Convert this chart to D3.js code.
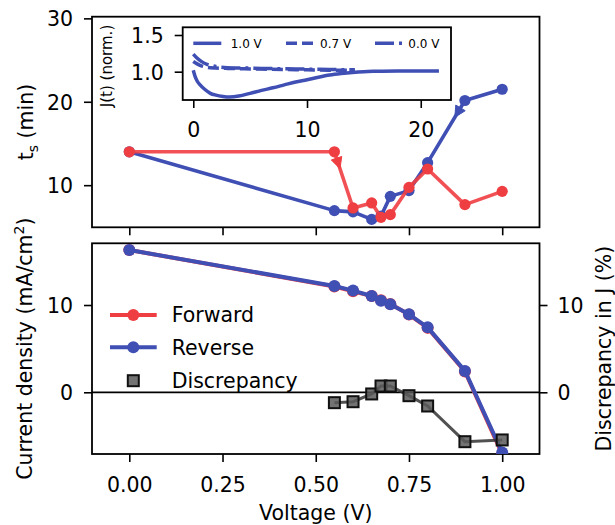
<!DOCTYPE html>
<html><head><meta charset="utf-8">
<script src="https://cdn.jsdelivr.net/npm/d3@7"></script>
<style>
body{margin:0;background:#fff}
svg{display:block}
text{font-family:"DejaVu Sans",sans-serif;fill:#000}
</style>
</head><body>
<svg id="c" width="615" height="525"></svg>
<script>
// ---------- data ----------
const voltage = [0, 0.55, 0.6, 0.65, 0.675, 0.7, 0.75, 0.8, 0.9, 1.0];
const tsForward = [14.0, 14.0, 7.27, 7.87, 6.15, 6.47, 9.74, 11.94, 7.67, 9.26];
const tsReverse = [14.0, 6.95, 6.8, 5.9, 6.3, 8.66, 9.35, 12.7, 20.15, 21.5];
const jReverse = [16.3, 12.18, 11.65, 11.03, 10.5, 10.08, 8.93, 7.44, 2.45, -6.9];
const jForward = [16.3, 12.12, 11.58, 11.02, 10.55, 10.12, 8.91, 7.38, 2.38, -7.1];
const discVoltage = [0.55, 0.6, 0.65, 0.675, 0.7, 0.75, 0.8, 0.9, 1.0];
const discrepancy = [-1.19, -1.08, -0.19, 0.72, 0.72, -0.39, -1.57, -5.66, -5.46];

// inset transients J(t) normalised
const t10 = [0, 0.15, 0.35, 0.6, 1.0, 1.5, 2.0, 2.6, 3.2, 4, 5, 6, 7, 8, 9, 10, 11, 12, 13, 14, 15, 16, 18, 20, 21.6];
const j10 = [1.02, 0.94, 0.87, 0.82, 0.76, 0.705, 0.68, 0.663, 0.656, 0.668, 0.705, 0.745, 0.78, 0.82, 0.86, 0.89, 0.925, 0.955, 0.975, 0.99, 1.0, 1.005, 1.01, 1.01, 1.01];
const t07 = [0, 0.3, 0.7, 1.2, 2, 3, 4.5, 6, 8, 10, 12, 14.2];
const j07 = [1.14, 1.11, 1.08, 1.06, 1.05, 1.045, 1.04, 1.035, 1.03, 1.025, 1.02, 1.02];
const t00 = [0, 0.3, 0.7, 1.2, 2, 3, 4.5, 6, 8, 10, 12, 14.2];
const j00 = [1.24, 1.19, 1.14, 1.10, 1.07, 1.055, 1.05, 1.045, 1.04, 1.035, 1.03, 1.025];

const xTicks = [0, 0.25, 0.5, 0.75, 1.0];
const xTickLabels = ["0.00", "0.25", "0.50", "0.75", "1.00"];
const tsTicks = [10, 20, 30];
const jTicks = [0, 10];
const discTicks = [0, 10];
const insetXTicks = [0, 10, 20];
const insetYTicks = [1.0, 1.5];
const insetYTickLabels = ["1.0", "1.5"];
const seriesNames = ["Forward", "Reverse", "Discrepancy"];
const insetNames = ["1.0 V", "0.7 V", "0.0 V"];

// ---------- styles ----------
const RED = "#ef3e42", BLUE = "#3f4fb4", GREY = "#333";
const FS = 20.5;

const svg = d3.select("#c");
const L = 92, R = 539.5;
const topP = {y0: 16.7, y1: 227.3}, botP = {y0: 243.3, y1: 454};

const x = d3.scaleLinear().domain([-0.1, 1.1]).range([L, R]);
const yT = d3.scaleLinear().domain([4.95, 30.2]).range([topP.y1, topP.y0]);
const yB = d3.scaleLinear().domain([-7.07, 17.07]).range([botP.y1, botP.y0]);
const yD = d3.scaleLinear().domain([-7.07, 17.07]).range([botP.y1, botP.y0]);

const defs = svg.append("defs");
defs.append("clipPath").attr("id", "clipT").append("rect")
  .attr("x", L).attr("y", topP.y0).attr("width", R - L).attr("height", topP.y1 - topP.y0);
defs.append("clipPath").attr("id", "clipB").append("rect")
  .attr("x", L).attr("y", botP.y0).attr("width", R - L).attr("height", botP.y1 - botP.y0);

function styleAxis(g, fs) {
  g.select(".domain").remove();
  g.selectAll(".tick line").attr("stroke", "#000").attr("stroke-width", 1.6);
  g.selectAll(".tick text").attr("font-size", fs).attr("font-family", "DejaVu Sans").attr("fill", "#000");
}

// ---------- top panel ----------
const gT = svg.append("g");
gT.append("g").attr("transform", `translate(0,${topP.y1})`)
  .call(d3.axisBottom(x).tickValues(xTicks).tickSize(8).tickFormat(""))
  .call(g => styleAxis(g, FS));
gT.append("g").attr("transform", `translate(${L},0)`)
  .call(d3.axisLeft(yT).tickValues(tsTicks).tickSize(8).tickPadding(11).tickFormat(d3.format("d")))
  .call(g => styleAxis(g, FS))
  .call(g => g.selectAll(".tick text").attr("dy", "0.36em"));

const dataT = svg.append("g").attr("clip-path", "url(#clipT)");
const lineT = (ys) => d3.line().x((d, i) => x(voltage[i])).y((d) => yT(d))(ys);

function arrow(g, xa, ya, xb, yb, f, color) {
  const dx = xb - xa, dy = yb - ya, len = Math.hypot(dx, dy);
  const ux = dx / len, uy = dy / len;
  const tx = xa + dx * f, ty = ya + dy * f;
  const bx = tx - ux * 11, by = ty - uy * 11;
  const px = -uy * 5.5, py = ux * 5.5;
  g.append("path").attr("d", `M${tx},${ty}L${bx + px},${by + py}L${bx - px},${by - py}Z`)
    .attr("fill", color).attr("stroke", color).attr("stroke-width", 1);
}

// reverse (blue)
dataT.append("path").attr("d", lineT(tsReverse)).attr("fill", "none")
  .attr("stroke", BLUE).attr("stroke-width", 3.6).attr("stroke-linejoin", "round");
dataT.selectAll(".dr").data(tsReverse).enter().append("circle")
  .attr("cx", (d, i) => x(voltage[i])).attr("cy", d => yT(d)).attr("r", 5.6).attr("fill", BLUE);
arrow(dataT, x(voltage[8]), yT(tsReverse[8]), x(voltage[7]), yT(tsReverse[7]), 0.27, BLUE);
// forward (red)
dataT.append("path").attr("d", lineT(tsForward)).attr("fill", "none")
  .attr("stroke", RED).attr("stroke-opacity", 0.9).attr("stroke-width", 3.6).attr("stroke-linejoin", "round");
dataT.selectAll(".df").data(tsForward).enter().append("circle")
  .attr("cx", (d, i) => x(voltage[i])).attr("cy", d => yT(d)).attr("r", 5.6).attr("fill", RED);
arrow(dataT, x(voltage[1]), yT(tsForward[1]), x(voltage[2]), yT(tsForward[2]), 0.3, RED);

gT.append("rect").attr("x", L).attr("y", topP.y0).attr("width", R - L).attr("height", topP.y1 - topP.y0)
  .attr("fill", "none").attr("stroke", "#000").attr("stroke-width", 1.8);

// ---------- inset ----------
const iL = 182.7, iR = 451, iT = 27.3, iB = 100;
const xi = d3.scaleLinear().domain([-0.93, 22.66]).range([iL, iR]);
const yi = d3.scaleLinear().domain([0.614, 1.605]).range([iB, iT]);
const gI = svg.append("g");
gI.append("rect").attr("x", iL).attr("y", iT).attr("width", iR - iL).attr("height", iB - iT).attr("fill", "#fff");
defs.append("clipPath").attr("id", "clipI").append("rect")
  .attr("x", iL).attr("y", iT).attr("width", iR - iL).attr("height", iB - iT);
const gIdata = gI.append("g").attr("clip-path", "url(#clipI)");
const lineI = (ts, js) => d3.line().curve(d3.curveMonotoneX).x((d, i) => xi(ts[i])).y(d => yi(d))(js);
const insetSeries = [
  {t: t10, j: j10, dash: null},
  {t: t07, j: j07, dash: "11,5"},
  {t: t00, j: j00, dash: "19,5,3,5"}
];
insetSeries.forEach(s => {
  gIdata.append("path").attr("d", lineI(s.t, s.j)).attr("fill", "none")
    .attr("stroke", BLUE).attr("stroke-width", 3.5).attr("stroke-dasharray", s.dash);
});
gI.append("g").attr("transform", `translate(0,${iB})`)
  .call(d3.axisBottom(xi).tickValues(insetXTicks).tickSize(8).tickPadding(14).tickFormat(d3.format("d")))
  .call(g => styleAxis(g, FS))
  .call(g => g.selectAll(".tick text").attr("dy", null).attr("y", 37));
gI.append("g").attr("transform", `translate(${iL},0)`)
  .call(d3.axisLeft(yi).tickValues(insetYTicks).tickSize(8).tickPadding(11).tickFormat((d, i) => insetYTickLabels[i]))
  .call(g => styleAxis(g, FS))
  .call(g => g.selectAll(".tick text").attr("dy", "0.36em"));
gI.append("rect").attr("x", iL).attr("y", iT).attr("width", iR - iL).attr("height", iB - iT)
  .attr("fill", "none").attr("stroke", "#000").attr("stroke-width", 1.8);
// inset legend
const iLegX = [193.3, 286, 375];
const iLegTX = [230.7, 320, 408.3];
insetSeries.forEach((s, k) => {
  gI.append("line").attr("x1", iLegX[k]).attr("x2", iLegX[k] + 28).attr("y1", 43.3).attr("y2", 43.3)
    .attr("stroke", BLUE).attr("stroke-width", 3.5).attr("stroke-dasharray", s.dash);
  gI.append("text").attr("x", iLegTX[k]).attr("y", 47.6).attr("font-size", 12).text(insetNames[k]);
});
svg.append("text").attr("transform", "translate(112,66) rotate(-90)").attr("text-anchor", "middle")
  .attr("font-size", 15).text("J(t) (norm.)");

// ---------- bottom panel ----------
const gB = svg.append("g");
gB.append("g").attr("transform", `translate(0,${botP.y1})`)
  .call(d3.axisBottom(x).tickValues(xTicks).tickSize(8).tickFormat((d, i) => xTickLabels[i]))
  .call(g => styleAxis(g, FS))
  .call(g => g.selectAll(".tick text").attr("dy", null).attr("y", 37.5));
gB.append("g").attr("transform", `translate(${L},0)`)
  .call(d3.axisLeft(yB).tickValues(jTicks).tickSize(8).tickPadding(11).tickFormat(d3.format("d")))
  .call(g => styleAxis(g, FS))
  .call(g => g.selectAll(".tick text").attr("dy", "0.36em"));
gB.append("g").attr("transform", `translate(${R},0)`)
  .call(d3.axisRight(yD).tickValues(discTicks).tickSize(8).tickPadding(10).tickFormat(d3.format("d")))
  .call(g => styleAxis(g, FS))
  .call(g => g.selectAll(".tick text").attr("dy", "0.36em"));

const dataB = svg.append("g").attr("clip-path", "url(#clipB)");
dataB.append("line").attr("x1", L).attr("x2", R).attr("y1", yB(0)).attr("y2", yB(0))
  .attr("stroke", "#000").attr("stroke-width", 1.8);
const lineB = (ys) => d3.line().x((d, i) => x(voltage[i])).y(d => yB(d))(ys);
dataB.append("path").attr("d", lineB(jForward)).attr("fill", "none")
  .attr("stroke", RED).attr("stroke-width", 4).attr("stroke-linejoin", "round");
dataB.selectAll(".bf").data(jForward).enter().append("circle")
  .attr("cx", (d, i) => x(voltage[i])).attr("cy", d => yB(d)).attr("r", 6).attr("fill", RED);
dataB.append("path").attr("d", lineB(jReverse)).attr("fill", "none")
  .attr("stroke", BLUE).attr("stroke-width", 4).attr("stroke-linejoin", "round");
dataB.selectAll(".br").data(jReverse).enter().append("circle")
  .attr("cx", (d, i) => x(voltage[i])).attr("cy", d => yB(d)).attr("r", 6).attr("fill", BLUE);
dataB.append("path")
  .attr("d", d3.line().x((d, i) => x(discVoltage[i])).y(d => yD(d))(discrepancy))
  .attr("fill", "none").attr("stroke", GREY).attr("stroke-opacity", 0.85).attr("stroke-width", 3);
dataB.selectAll(".sq").data(discrepancy).enter().append("rect")
  .attr("x", (d, i) => x(discVoltage[i]) - 5.5).attr("y", d => yD(d) - 5.5)
  .attr("width", 11).attr("height", 11)
  .attr("fill", "#5a5a5a").attr("fill-opacity", 0.85).attr("stroke", "#111").attr("stroke-width", 2);

gB.append("rect").attr("x", L).attr("y", botP.y0).attr("width", R - L).attr("height", botP.y1 - botP.y0)
  .attr("fill", "none").attr("stroke", "#000").attr("stroke-width", 1.8);

// legend
const legY = [315, 347.3, 380.7];
const legColors = [RED, BLUE];
[0, 1].forEach(k => {
  svg.append("line").attr("x1", 110).attr("x2", 156.7).attr("y1", legY[k]).attr("y2", legY[k])
    .attr("stroke", legColors[k]).attr("stroke-width", 4);
  svg.append("circle").attr("cx", 133.3).attr("cy", legY[k]).attr("r", 6).attr("fill", legColors[k]);
});
svg.append("rect").attr("x", 133.3 - 5.5).attr("y", legY[2] - 5.5).attr("width", 11).attr("height", 11)
  .attr("fill", "#5a5a5a").attr("fill-opacity", 0.85).attr("stroke", "#111").attr("stroke-width", 2);
seriesNames.forEach((n, k) => {
  svg.append("text").attr("x", 171.7).attr("y", legY[k] + 7.3).attr("font-size", FS).text(n);
});

// ---------- axis labels ----------
const ts = svg.append("text").attr("transform", `translate(33,${(topP.y0 + topP.y1) / 2}) rotate(-90)`)
  .attr("text-anchor", "middle").attr("font-size", FS);
ts.append("tspan").text("t");
ts.append("tspan").attr("font-size", 14).attr("dy", 5).text("s");
ts.append("tspan").attr("dy", -5).text(" (min)");

const cd = svg.append("text").attr("transform", `translate(31.5,${(botP.y0 + botP.y1) / 2}) rotate(-90)`)
  .attr("text-anchor", "middle").attr("font-size", FS);
cd.append("tspan").text("Current density (mA/cm");
cd.append("tspan").attr("font-size", 14).attr("dy", -8).text("2");
cd.append("tspan").attr("dy", 8).text(")");

svg.append("text").attr("transform", `translate(611,${(botP.y0 + botP.y1) / 2}) rotate(-90)`)
  .attr("text-anchor", "middle").attr("font-size", FS).text("Discrepancy in J (%)");

svg.append("text").attr("x", (L + R) / 2).attr("y", 520).attr("text-anchor", "middle")
  .attr("font-size", FS).text("Voltage (V)");
</script>
</body></html>
